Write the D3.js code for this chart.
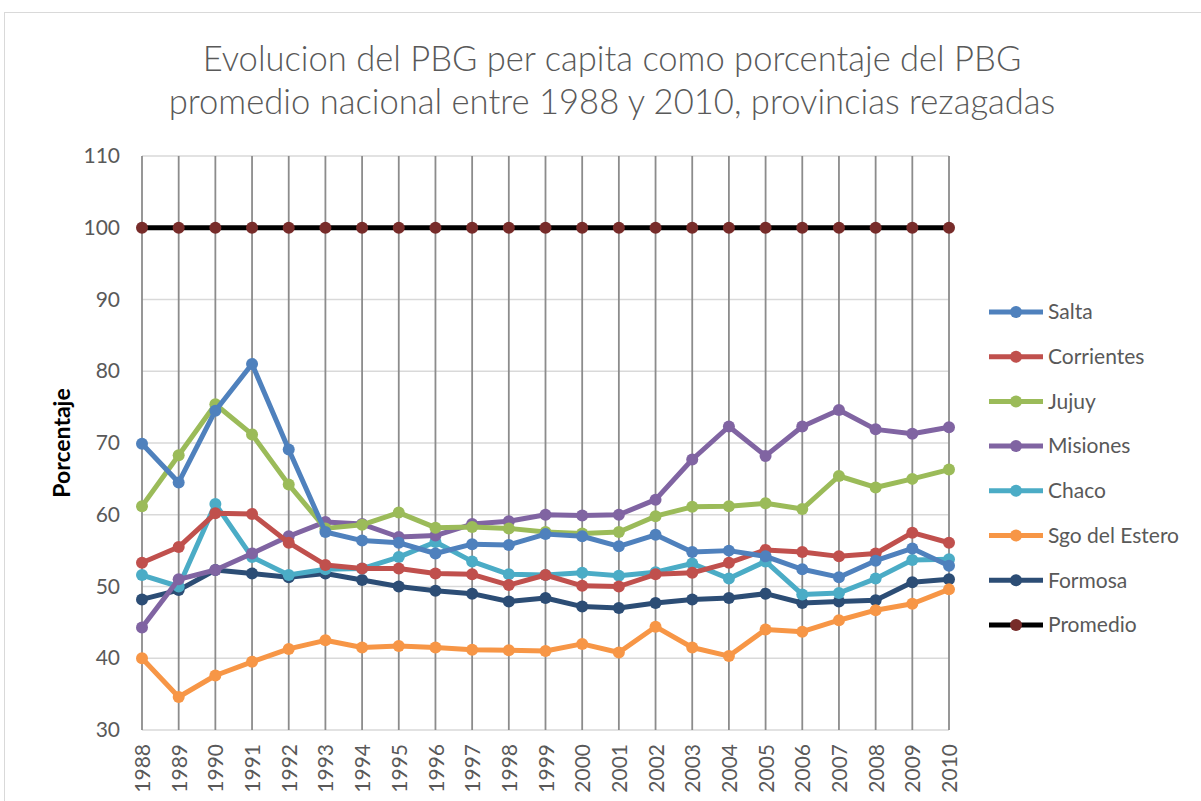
<!DOCTYPE html>
<html><head><meta charset="utf-8">
<script src="https://cdn.jsdelivr.net/npm/d3@7"></script>
<style>body{margin:0;background:#fff}svg{display:block}</style>
</head><body><svg id="c" width="1201" height="801"></svg>
<script>
const years = [1988,1989,1990,1991,1992,1993,1994,1995,1996,1997,1998,1999,2000,2001,2002,2003,2004,2005,2006,2007,2008,2009,2010];
const salta      = [69.9,64.5,74.5,81.0,69.1,57.6,56.4,56.1,54.6,55.9,55.8,57.3,57.0,55.6,57.2,54.8,55.0,54.2,52.4,51.3,53.6,55.3,52.9];
const corrientes = [53.3,55.5,60.2,60.1,56.1,53.0,52.5,52.5,51.8,51.7,50.2,51.6,50.1,50.0,51.7,51.9,53.3,55.1,54.8,54.2,54.6,57.5,56.1];
const jujuy      = [61.2,68.3,75.4,71.2,64.2,58.1,58.6,60.3,58.2,58.3,58.1,57.6,57.4,57.6,59.8,61.1,61.2,61.6,60.8,65.4,63.8,65.0,66.3];
const misiones   = [44.3,51.0,52.3,54.6,57.0,59.0,58.7,56.9,57.1,58.7,59.1,60.0,59.9,60.0,62.1,67.7,72.3,68.2,72.3,74.6,71.9,71.3,72.2];
const chaco      = [51.6,50.0,61.5,54.1,51.6,52.4,52.5,54.1,56.2,53.5,51.7,51.6,51.9,51.5,52.0,53.2,51.1,53.5,48.9,49.1,51.1,53.7,53.8];
const sgo        = [40.0,34.6,37.6,39.5,41.3,42.5,41.5,41.7,41.5,41.2,41.1,41.0,42.0,40.8,44.4,41.5,40.3,44.0,43.7,45.3,46.7,47.6,49.6];
const formosa    = [48.2,49.5,52.3,51.8,51.3,51.8,50.9,50.0,49.4,49.0,47.9,48.4,47.2,47.0,47.7,48.2,48.4,49.0,47.7,47.9,48.1,50.6,51.0];
const promedio   = [100,100,100,100,100,100,100,100,100,100,100,100,100,100,100,100,100,100,100,100,100,100,100];
const seriesNames = ["Salta","Corrientes","Jujuy","Misiones","Chaco","Sgo del Estero","Formosa","Promedio"];
const seriesValues = [salta,corrientes,jujuy,misiones,chaco,sgo,formosa,promedio];
const lineColors = ["#4F81BD","#C0504D","#9BBB59","#8064A2","#4BACC6","#F79646","#2C4D75","#000000"];
const markerColors = ["#4F81BD","#C0504D","#9BBB59","#8064A2","#4BACC6","#F79646","#2C4D75","#772C2A"];
const yTicks = [30,40,50,60,70,80,90,100,110];
const titleLines = ["Evolucion del PBG per capita como porcentaje del PBG","promedio nacional entre 1988 y 2010, provincias rezagadas"];
const yTitle = "Porcentaje";

const svg = d3.select("#c");
const FONT = "Lato, 'Open Sans', sans-serif";
svg.append("rect").attr("x",4.5).attr("y",12.5).attr("width",1210).attr("height",800)
  .attr("fill","none").attr("stroke","#d9d9d9").attr("stroke-width",1);

const x = d3.scalePoint().domain(years).range([142,949]);
const y = d3.scaleLinear().domain([30,110]).range([730,156]);

svg.append("g").selectAll("line").data(yTicks).join("line")
  .attr("x1",142).attr("x2",949).attr("y1",d=>y(d)).attr("y2",d=>y(d))
  .attr("stroke","#d9d9d9").attr("stroke-width",1.5);
svg.append("g").selectAll("line").data(years).join("line")
  .attr("x1",d=>x(d)).attr("x2",d=>x(d)).attr("y1",y(110)).attr("y2",y(30))
  .attr("stroke","#8c8c8c").attr("stroke-width",1.8);

const yAxis = d3.axisLeft(y).tickValues(yTicks).tickSize(0).tickPadding(0);
const gy = svg.append("g").attr("transform","translate(120,0)").call(yAxis);
gy.select(".domain").remove();
gy.selectAll("text").attr("font-family",FONT).attr("font-size",21).attr("fill","#595959");

const xAxis = d3.axisBottom(x).tickSize(0).tickPadding(0).tickFormat(d3.format("d"));
const gx = svg.append("g").attr("transform","translate(0,0)").call(xAxis);
gx.select(".domain").remove();
gx.selectAll(".tick text").attr("font-family",FONT).attr("font-size",21).attr("fill","#595959")
  .attr("transform","rotate(-90)").attr("text-anchor","end").attr("x",-744).attr("y",0).attr("dy","0.36em");

svg.append("text").attr("transform","translate(70,443) rotate(-90)").attr("text-anchor","middle")
  .attr("font-family",FONT).attr("font-weight","bold").attr("font-size",23).attr("fill","#000").text(yTitle);

const tl = svg.append("g");
titleLines.forEach((t,i)=>{
  tl.append("text").attr("x",612).attr("y",[71,114][i]).attr("text-anchor","middle")
    .attr("font-family",FONT).attr("font-weight",300).attr("font-size",31).attr("fill","#595959").text(t);
});
const targetW = [819, 887];
tl.selectAll("text").each(function(d,i){
  const w = this.getComputedTextLength();
  this.setAttribute("font-size", 31*targetW[i]/w);
});

const line = d3.line().x((d,i)=>x(years[i])).y(d=>y(d));
const order = [7,6,5,4,3,2,1,0];
order.forEach(k=>{
  const g = svg.append("g");
  g.append("path").datum(seriesValues[k]).attr("d",line).attr("fill","none")
    .attr("stroke",lineColors[k]).attr("stroke-width",5).attr("stroke-linejoin","round");
  g.selectAll("circle").data(seriesValues[k]).join("circle")
    .attr("cx",(d,i)=>x(years[i])).attr("cy",d=>y(d)).attr("r",6).attr("fill",markerColors[k]);
});

const lg = svg.append("g");
seriesNames.forEach((n,i)=>{
  const cy = 312 + i*44.7;
  lg.append("line").attr("x1",989).attr("x2",1043).attr("y1",cy).attr("y2",cy)
    .attr("stroke",lineColors[i]).attr("stroke-width",5);
  lg.append("circle").attr("cx",1016).attr("cy",cy).attr("r",6).attr("fill",markerColors[i]);
  lg.append("text").attr("x",1048).attr("y",cy).attr("dy","0.35em").attr("font-family",FONT)
    .attr("font-size",21).attr("fill","#595959").text(n);
});
</script></body></html>
